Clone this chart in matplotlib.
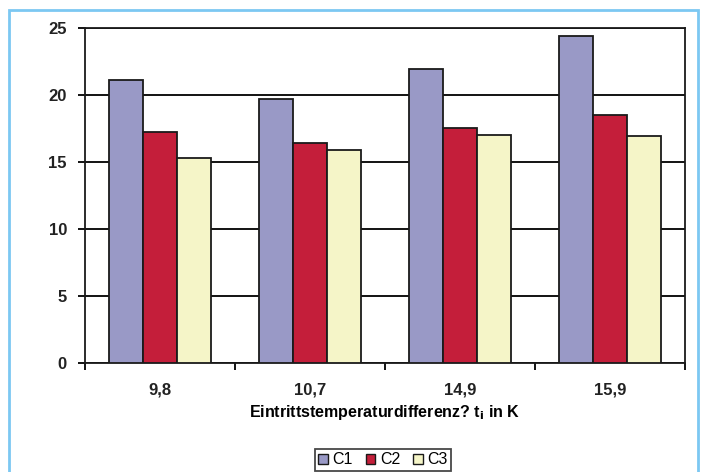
import numpy as np
import matplotlib.pyplot as plt
from matplotlib.patches import Rectangle, Patch

plt.rcParams['font.family'] = ['Liberation Sans', 'DejaVu Sans']

categories = ['9,8', '10,7', '14,9', '15,9']
c1 = [21.1, 19.7, 21.9, 24.4]
c2 = [17.2, 16.4, 17.5, 18.5]
c3 = [15.3, 15.9, 17.0, 16.9]
series = [('C1', c1, '#9999c6'), ('C2', c2, '#c41e3a'), ('C3', c3, '#f5f5c8')]

fig = plt.figure(figsize=(7.02, 4.72), dpi=100)
# light blue frame around the picture
fig.patches.append(Rectangle((9/702, -0.05), 689/702, 1.05 - 10/472, transform=fig.transFigure,
                             fill=False, edgecolor='#7cc8f2', linewidth=2))

ax = fig.add_axes([85/702, 1 - 363/472, 600/702, (363 - 27.5)/472])
x = np.arange(len(categories))
w = 0.227
for i, (name, vals, col) in enumerate(series):
    ax.bar(x + (i - 1) * w, vals, w, color=col, edgecolor='#1a1a1a', linewidth=1.3, zorder=3, label=name)

ax.set_xlim(-0.5, 3.5)
ax.set_ylim(0, 25)
ax.set_yticks([0, 5, 10, 15, 20, 25])
ax.yaxis.grid(True, color='black', linewidth=1.3, zorder=0)
ax.set_axisbelow(True)
ax.set_xticks(x)
ax.set_xticklabels(categories)
ax.set_xticks(np.arange(-0.5, 4, 1), minor=True)
ax.tick_params(axis='x', which='major', length=0, pad=14)
ax.tick_params(axis='x', which='minor', length=5, width=1.3, direction='out')
ax.tick_params(axis='y', length=5, width=1.3, direction='out', pad=8)
for lab in ax.get_xticklabels() + ax.get_yticklabels():
    lab.set_fontsize(12)
    lab.set_fontweight('bold')
    lab.set_color('#222222')
for s in ax.spines.values():
    s.set_linewidth(1.3)
    s.set_color('#1a1a1a')

ax.set_xlabel('Eintrittstemperaturdifferenz? t$_\\mathbf{i}$ in K', fontsize=11.5, fontweight='bold', labelpad=4)

handles = [Patch(facecolor=col, edgecolor='#1a1a1a', linewidth=1, label=name) for name, vals, col in series]
leg = fig.legend(handles=handles, loc='center', bbox_to_anchor=(383/702, 1 - 460/472), ncol=3,
                 frameon=True, fancybox=False, edgecolor='#1a1a1a', fontsize=11.5,
                 handlelength=0.6, handleheight=0.6, handletextpad=0.3, columnspacing=0.8,
                 borderpad=0.2, borderaxespad=0)
leg.get_frame().set_linewidth(1.3)

fig.savefig('out.png', dpi=100)
